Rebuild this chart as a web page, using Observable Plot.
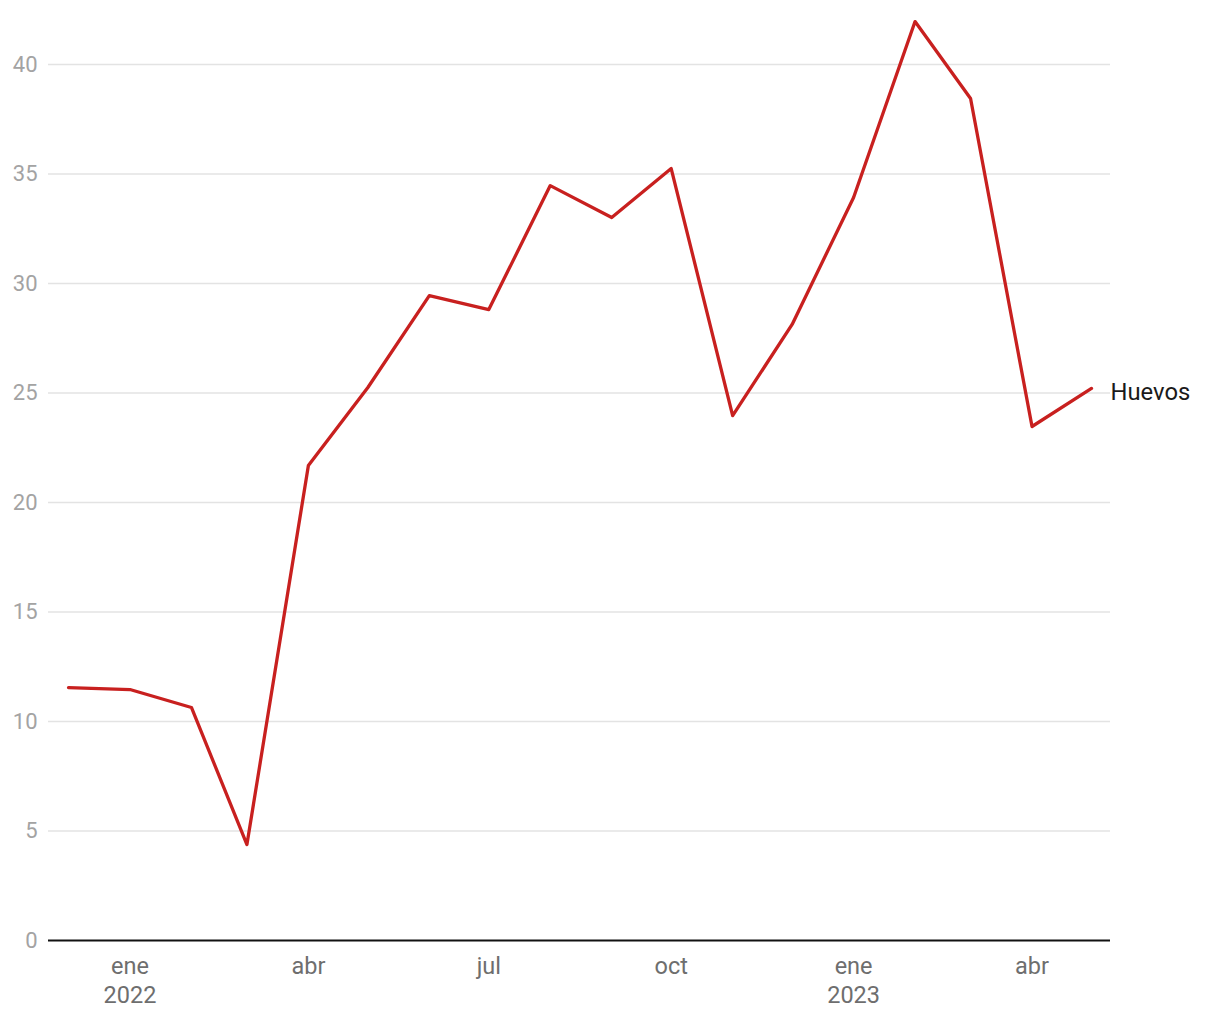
<!DOCTYPE html>
<html>
<head>
<meta charset="utf-8">
<script src="https://cdn.jsdelivr.net/npm/d3@7"></script>
<script src="https://cdn.jsdelivr.net/npm/@observablehq/plot@0.6"></script>
<style>
  html, body { margin: 0; padding: 0; background: #fff; }
  #chart { width: 1220px; height: 1020px; }
  svg { font-family: Roboto, "Noto Sans", sans-serif; }
</style>
</head>
<body>
<div id="chart"></div>
<script>
const months = ["2021-12","2022-01","2022-02","2022-03","2022-04","2022-05","2022-06","2022-07","2022-08","2022-09","2022-10","2022-11","2022-12","2023-01","2023-02","2023-03","2023-04","2023-05"];
const values = [11.55, 11.46, 10.64, 4.38, 21.69, 25.25, 29.45, 28.81, 34.47, 33.01, 35.25, 23.97, 28.13, 33.93, 41.96, 38.45, 23.47, 25.21];
const seriesName = "Huevos";
const xTickDates = ["2022-01","2022-04","2022-07","2022-10","2023-01","2023-04"];
const xTickLabels = ["ene\n2022","abr","jul","oct","ene\n2023","abr"];
const yTicks = [0,5,10,15,20,25,30,35,40];

const parse = s => new Date(s + "-01T00:00:00");
const data = months.map((m, i) => ({date: parse(m), value: values[i]}));
const tickDates = xTickDates.map(parse);
const labelMap = new Map(tickDates.map((d, i) => [+d, xTickLabels[i]]));
const last = data[data.length - 1];

const chart = Plot.plot({
  width: 1220,
  height: 1020,
  marginLeft: 48,
  marginRight: 110,
  marginTop: 0,
  marginBottom: 80,
  style: {fontFamily: "Roboto, 'Noto Sans', sans-serif", fontSize: "22px", background: "#fff"},
  x: {type: "utc", domain: [parse(months[0]), parse(months[months.length-1])], range: [68, 1091]},
  y: {domain: [0, 40], range: [940, 64]},
  marks: [
    Plot.ruleY(yTicks.filter(d => d !== 0), {stroke: "#e3e3e3", strokeWidth: 1.5}),
    Plot.axisY(yTicks, {tickSize: 0, tickPadding: 11, fontSize: 22, fill: "#a3a3a3", label: null}),
    Plot.axisX(tickDates, {tickSize: 0, tickPadding: 13, fontSize: 23.5, fill: "#6e6e6e", lineHeight: 1.23, label: null, tickFormat: d => labelMap.get(+d)}),
    Plot.ruleY([0], {stroke: "#111", strokeWidth: 2}),
    Plot.line(data, {x: "date", y: "value", stroke: "#c8201f", strokeWidth: 3.3}),
    Plot.text([last], {x: "date", y: "value", text: () => seriesName, dx: 19, dy: 4, textAnchor: "start", fontSize: 23.8, fill: "#1a1a1a"})
  ]
});
document.getElementById("chart").appendChild(chart);
</script>
</body>
</html>
